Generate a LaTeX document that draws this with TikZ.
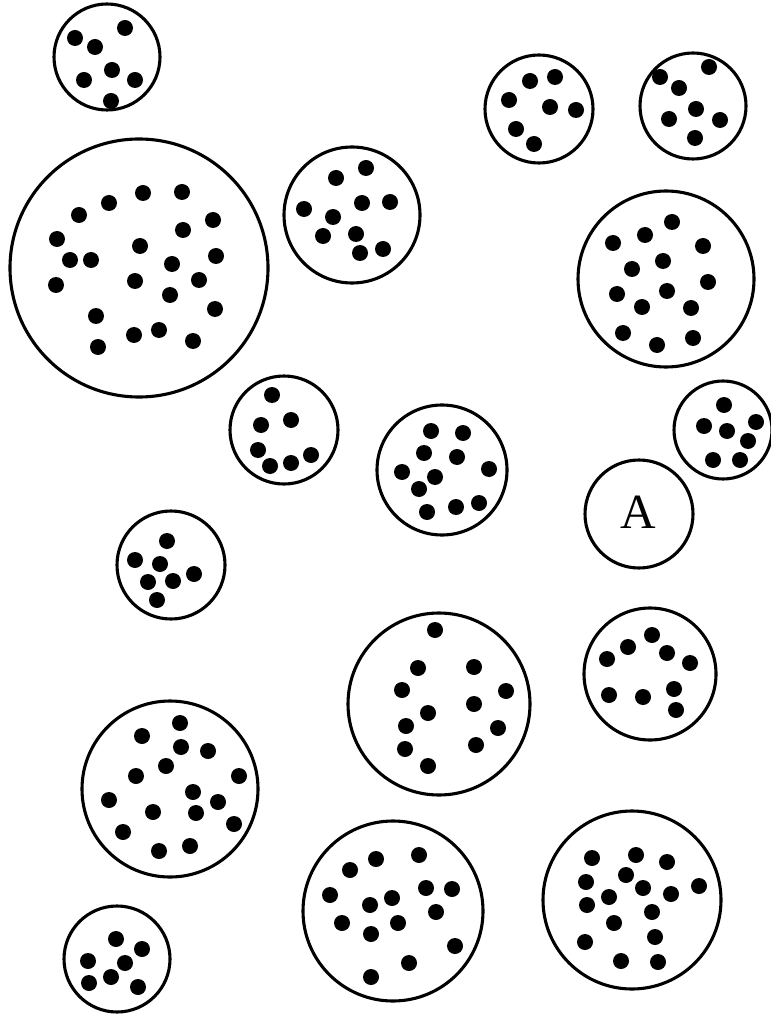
\documentclass[tikz,border=0pt]{standalone}
\usepackage{fontspec}
\setmainfont{Liberation Serif}

\tikzset{
  ring/.style={draw=black, line width=2.2pt},
  blob/.style={fill=black},
}

\begin{document}
\begin{tikzpicture}[x=0.025cm, y=-0.025cm]

    % Page frame (pixel grid of the reference)
    \useasboundingbox (0,0) rectangle (770,1016);

    % Dot radius
    \def\dr{8}

    % Top left small cell
    \draw[ring] (107,57) circle[radius=53];
    \foreach \x/\y in {125/28, 75/38, 95/47, 112/70, 84/80, 135/80, 111/101}
        \fill[blob] (\x,\y) circle[radius=\dr];

    % Large cell
    \draw[ring] (139,268) circle[radius=129];
    \foreach \x/\y in {143/193, 182/192, 109/203, 79/215, 213/220, 183/230,
                       57/239, 140/246, 70/260, 91/260, 216/256, 172/264,
                       56/285, 135/281, 199/280, 170/295, 215/309, 96/316,
                       134/335, 159/330, 193/341, 98/347}
        \fill[blob] (\x,\y) circle[radius=\dr];

    % Cell next to the large one
    \draw[ring] (352,215) circle[radius=68];
    \foreach \x/\y in {366/168, 336/178, 362/203, 390/202, 304/209, 333/217,
                       323/236, 356/234, 360/253, 383/249}
        \fill[blob] (\x,\y) circle[radius=\dr];

    % Top right pair
    \draw[ring] (539,109) circle[radius=54];
    \foreach \x/\y in {530/81, 555/77, 509/100, 550/107, 576/110, 516/129, 534/144}
        \fill[blob] (\x,\y) circle[radius=\dr];

    \draw[ring] (693,106) circle[radius=53];
    \foreach \x/\y in {709/67, 660/77, 679/88, 696/109, 669/119, 720/120, 695/138}
        \fill[blob] (\x,\y) circle[radius=\dr];

    % Right cell
    \draw[ring] (666,279) circle[radius=88];
    \foreach \x/\y in {672/222, 645/235, 613/243, 703/246, 663/261, 632/269,
                       708/282, 617/294, 667/291, 642/307, 691/308, 623/333,
                       657/345, 693/338}
        \fill[blob] (\x,\y) circle[radius=\dr];

    % Middle row
    \draw[ring] (284,430) circle[radius=54];
    \foreach \x/\y in {272/395, 291/420, 261/425, 258/450, 270/466, 291/463, 311/455}
        \fill[blob] (\x,\y) circle[radius=\dr];

    \draw[ring] (442,470) circle[radius=65];
    \foreach \x/\y in {431/431, 463/433, 424/453, 457/457, 402/472, 435/477,
                       489/469, 419/489, 427/512, 456/507, 479/503}
        \fill[blob] (\x,\y) circle[radius=\dr];

    \draw[ring] (723,430) circle[radius=49];
    \foreach \x/\y in {724/405, 704/426, 727/431, 756/422, 748/441, 713/460, 740/460}
        \fill[blob] (\x,\y) circle[radius=\dr];

    % Empty cell
    \draw[ring] (639,514) circle[radius=54];
    \node[font=\fontsize{35}{38}\selectfont, inner sep=0pt] (labelA) at (638,512) {A};

    % Left small cell
    \draw[ring] (171,565) circle[radius=54];
    \foreach \x/\y in {167/541, 135/560, 160/564, 194/574, 148/582, 173/581, 157/600}
        \fill[blob] (\x,\y) circle[radius=\dr];

    % Lower middle cells
    \draw[ring] (439,704) circle[radius=91];
    \foreach \x/\y in {435/630, 418/668, 474/667, 402/690, 506/691, 474/704,
                       428/713, 406/726, 498/728, 405/749, 476/745, 428/766}
        \fill[blob] (\x,\y) circle[radius=\dr];

    \draw[ring] (650,674) circle[radius=66];
    \foreach \x/\y in {652/635, 628/647, 667/653, 607/659, 690/663, 609/695,
                       643/697, 674/689, 676/710}
        \fill[blob] (\x,\y) circle[radius=\dr];

    \draw[ring] (170,789) circle[radius=88];
    \foreach \x/\y in {180/723, 142/736, 181/747, 208/751, 166/766, 136/776,
                       239/776, 193/792, 109/800, 218/802, 153/812, 196/813,
                       234/824, 123/832, 190/846, 159/851}
        \fill[blob] (\x,\y) circle[radius=\dr];

    % Bottom row
    \draw[ring] (117,959) circle[radius=53];
    \foreach \x/\y in {116/939, 142/949, 88/961, 125/963, 89/983, 111/977, 138/987}
        \fill[blob] (\x,\y) circle[radius=\dr];

    \draw[ring] (393,911) circle[radius=90];
    \foreach \x/\y in {376/859, 419/855, 350/870, 330/895, 426/888, 452/889,
                       392/898, 370/905, 436/912, 342/923, 398/923, 371/934,
                       455/946, 409/963, 371/977}
        \fill[blob] (\x,\y) circle[radius=\dr];

    \draw[ring] (632,900) circle[radius=89];
    \foreach \x/\y in {592/858, 636/855, 667/862, 626/875, 586/882, 643/888,
                       699/886, 609/897, 671/894, 587/905, 652/912, 614/923,
                       585/942, 655/937, 621/961, 658/962}
        \fill[blob] (\x,\y) circle[radius=\dr];

\end{tikzpicture}
\end{document}
